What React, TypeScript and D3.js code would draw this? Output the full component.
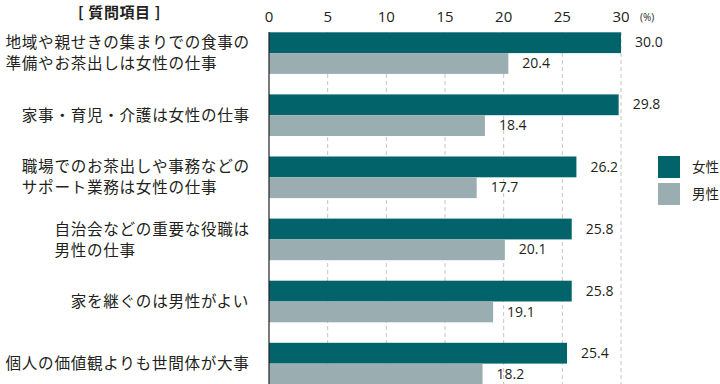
import { useEffect, useRef } from "react";
import * as d3 from "d3";

// 質問項目（表示用に改行済み）
const categories: string[][] = [
  ["地域や親せきの集まりでの食事の", "準備やお茶出しは女性の仕事"],
  ["家事・育児・介護は女性の仕事"],
  ["職場でのお茶出しや事務などの", "サポート業務は女性の仕事"],
  ["自治会などの重要な役職は", "男性の仕事"],
  ["家を継ぐのは男性がよい"],
  ["個人の価値観よりも世間体が大事"],
];
const female = [30.0, 29.8, 26.2, 25.8, 25.8, 25.4];
const male = [20.4, 18.4, 17.7, 20.1, 19.1, 18.2];
const seriesNames = ["女性", "男性"];
const ticks = [0, 5, 10, 15, 20, 25, 30];

const colors = ["#02646a", "#9aaeb2"];
const textColor = "#231f20";
const jp = "'Noto Sans CJK JP', 'Noto Sans', sans-serif";
const num = "'Open Sans', 'Noto Sans', sans-serif";

export default function App() {
  const svgRef = useRef<SVGSVGElement>(null);

  useEffect(() => {
    if (!svgRef.current) return;
    const svg = d3.select(svgRef.current);
    svg.selectAll("*").remove();

    const x = d3.scaleLinear().domain([0, 30]).range([269, 621]);
    const y = d3
      .scaleBand<number>()
      .domain(d3.range(categories.length))
      .range([32.3, 384.4])
      .paddingInner(0.33)
      .paddingOuter(0);
    const inner = d3
      .scaleBand<number>()
      .domain([0, 1])
      .range([0, y.bandwidth()]);

    // グリッド線（点線）
    svg
      .append("g")
      .selectAll("line")
      .data(ticks.filter((t) => t > 0))
      .enter()
      .append("line")
      .attr("x1", (d) => x(d))
      .attr("x2", (d) => x(d))
      .attr("y1", 32)
      .attr("y2", 384)
      .style("stroke", "#c4c4c4")
      .style("stroke-width", 1)
      .style("stroke-dasharray", "4,3");

    // 目盛りラベル
    svg
      .append("g")
      .selectAll("text")
      .data(ticks)
      .enter()
      .append("text")
      .attr("x", (d) => x(d))
      .attr("y", 22)
      .attr("text-anchor", "middle")
      .text((d) => d)
      .style("font-family", num)
      .style("font-size", "15px")
      .style("fill", textColor);

    svg
      .append("text")
      .attr("x", 640)
      .attr("y", 21)
      .text("(%)")
      .style("font-family", num)
      .style("font-size", "10px")
      .style("fill", textColor);

    // 棒
    const values = [female, male];
    const group = svg
      .append("g")
      .selectAll("g")
      .data(categories.map((_, i) => i))
      .enter()
      .append("g")
      .attr("transform", (i) => `translate(0,${y(i)})`);

    values.forEach((vals, s) => {
      group
        .append("rect")
        .attr("x", x(0))
        .attr("y", inner(s)!)
        .attr("width", (i) => x(vals[i]) - x(0))
        .attr("height", inner.bandwidth())
        .style("fill", colors[s]);

      group
        .append("text")
        .attr("x", (i) => x(vals[i]) + 14)
        .attr("y", inner(s)! + inner.bandwidth() / 2)
        .attr("dy", "0.33em")
        .text((i) => vals[i].toFixed(1))
        .style("font-family", num)
        .style("font-size", "14px")
        .style("fill", textColor);
    });

    // 軸線
    svg
      .append("line")
      .attr("x1", x(0))
      .attr("x2", x(0))
      .attr("y1", 32)
      .attr("y2", 384)
      .style("stroke", "#231f20")
      .style("stroke-width", 1.2);

    // 項目ラベル（ブロックは右揃え、行は左揃え）
    const fs = 15.6;
    const step = 16.3;
    categories.forEach((lines, i) => {
      const longest = d3.max(lines, (l) => l.length)!;
      const left = 250 - longest * step;
      const cy = y(i)! + y.bandwidth() / 2;
      const lh = 21;
      lines.forEach((line, k) => {
        svg
          .append("text")
          .attr("x", left)
          .attr("y", cy + (k - (lines.length - 1) / 2) * lh)
          .attr("dy", "0.36em")
          .text(line)
          .style("font-family", jp)
          .style("font-size", `${fs}px`)
          .style("letter-spacing", `${step - fs}px`)
          .style("fill", textColor);
      });
    });

    // 見出し
    svg
      .append("text")
      .attr("x", 78)
      .attr("y", 17.5)
      .text("[ 質問項目 ]")
      .style("font-family", jp)
      .style("font-size", "15px")
      .style("letter-spacing", "0.6px")
      .style("font-weight", "bold")
      .style("fill", textColor);

    // 凡例
    const legend = svg
      .append("g")
      .selectAll("g")
      .data(seriesNames)
      .enter()
      .append("g")
      .attr("transform", (_, i) => `translate(658,${156 + i * 27})`);
    legend
      .append("rect")
      .attr("width", 22)
      .attr("height", 22)
      .style("fill", (_, i) => colors[i]);
    legend
      .append("text")
      .attr("x", 34)
      .attr("y", 11)
      .attr("dy", "0.36em")
      .text((d) => d)
      .style("font-family", jp)
      .style("font-size", "13.5px")
      .style("fill", textColor);
  }, []);

  return (
    <div style={{ position: "absolute", left: 0, top: 0, width: 720, height: 384 }}>
      <svg ref={svgRef} width={720} height={384} style={{ display: "block" }} />
    </div>
  );
}
